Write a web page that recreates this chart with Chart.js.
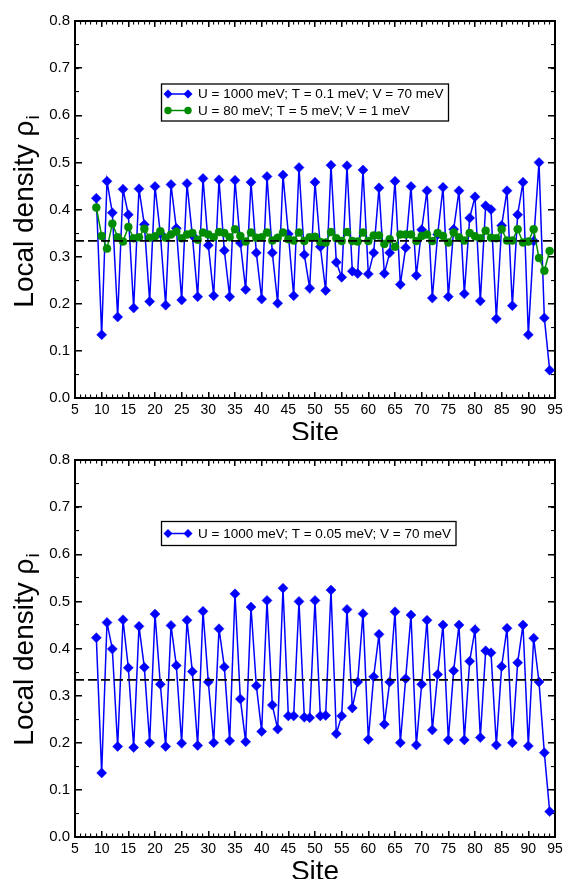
<!DOCTYPE html>
<html>
<head>
<meta charset="utf-8">
<title>Local density per site</title>
<script src="https://cdn.jsdelivr.net/npm/chart.js@4.4.1/dist/chart.umd.min.js"></script>
<style>
  html, body { margin: 0; padding: 0; background: #fff; }
  canvas { position: absolute; left: 0; }
  #panelTop { top: 0; }
  #panelBottom { top: 439px; }
</style>
</head>
<body>
<canvas id="panelTop" width="581" height="440"></canvas>
<canvas id="panelBottom" width="581" height="440"></canvas>
<script>
// sites along the chain
const sites = [
  9, 10, 11, 12, 13, 14, 15, 16, 17, 18,
  19, 20, 21, 22, 23, 24, 25, 26, 27, 28,
  29, 30, 31, 32, 33, 34, 35, 36, 37, 38,
  39, 40, 41, 42, 43, 44, 45, 46, 47, 48,
  49, 50, 51, 52, 53, 54, 55, 56, 57, 58,
  59, 60, 61, 62, 63, 64, 65, 66, 67, 68,
  69, 70, 71, 72, 73, 74, 75, 76, 77, 78,
  79, 80, 81, 82, 83, 84, 85, 86, 87, 88,
  89, 90, 91, 92, 93, 94
];

// top panel: U = 1000 meV; T = 0.1 meV; V = 70 meV
const rhoStrongT01 = [
  0.424, 0.134, 0.460, 0.393, 0.172, 0.443, 0.389, 0.191, 0.444, 0.368,
  0.205, 0.449, 0.349, 0.197, 0.453, 0.360, 0.208, 0.455, 0.345, 0.215,
  0.466, 0.324, 0.217, 0.463, 0.313, 0.215, 0.462, 0.329, 0.230, 0.458,
  0.308, 0.210, 0.470, 0.308, 0.201, 0.473, 0.348, 0.217, 0.489, 0.304,
  0.233, 0.458, 0.321, 0.228, 0.494, 0.288, 0.256, 0.493, 0.269, 0.264,
  0.484, 0.263, 0.308, 0.446, 0.264, 0.308, 0.460, 0.241, 0.319, 0.449,
  0.260, 0.357, 0.440, 0.212, 0.347, 0.447, 0.215, 0.358, 0.440, 0.221,
  0.382, 0.427, 0.206, 0.408, 0.400, 0.168, 0.366, 0.440, 0.196, 0.389,
  0.458, 0.134, 0.333, 0.500, 0.170, 0.059
];

// top panel: U = 80 meV; T = 5 meV; V = 1 meV
const rhoWeak = [
  0.404, 0.344, 0.317, 0.370, 0.341, 0.332, 0.363, 0.339, 0.341, 0.359,
  0.340, 0.343, 0.354, 0.340, 0.347, 0.353, 0.339, 0.347, 0.350, 0.336,
  0.351, 0.347, 0.341, 0.352, 0.350, 0.341, 0.358, 0.344, 0.332, 0.351,
  0.340, 0.341, 0.351, 0.334, 0.340, 0.351, 0.337, 0.334, 0.351, 0.333,
  0.341, 0.342, 0.331, 0.330, 0.352, 0.339, 0.333, 0.352, 0.333, 0.332,
  0.351, 0.333, 0.345, 0.345, 0.327, 0.337, 0.321, 0.347, 0.347, 0.347,
  0.333, 0.344, 0.347, 0.333, 0.350, 0.344, 0.330, 0.351, 0.341, 0.334,
  0.350, 0.343, 0.339, 0.355, 0.340, 0.339, 0.358, 0.334, 0.334, 0.358,
  0.330, 0.332, 0.358, 0.297, 0.270, 0.312
];

// bottom panel: U = 1000 meV; T = 0.05 meV; V = 70 meV
const rhoStrongT005 = [
  0.423, 0.136, 0.455, 0.399, 0.192, 0.461, 0.359, 0.190, 0.447, 0.360,
  0.200, 0.473, 0.324, 0.192, 0.449, 0.364, 0.199, 0.460, 0.351, 0.194,
  0.479, 0.329, 0.200, 0.442, 0.361, 0.204, 0.516, 0.293, 0.202, 0.488,
  0.321, 0.224, 0.502, 0.280, 0.229, 0.528, 0.257, 0.257, 0.500, 0.254,
  0.253, 0.502, 0.257, 0.258, 0.524, 0.219, 0.257, 0.483, 0.274, 0.329,
  0.474, 0.207, 0.340, 0.430, 0.239, 0.329, 0.478, 0.200, 0.336, 0.471,
  0.195, 0.324, 0.460, 0.227, 0.345, 0.450, 0.206, 0.353, 0.450, 0.206,
  0.373, 0.440, 0.211, 0.395, 0.391, 0.195, 0.362, 0.443, 0.200, 0.370,
  0.450, 0.193, 0.422, 0.329, 0.179, 0.054
];

// dashed guide at one-third filling
const guideSites = [5, 95];
const guideRho = [0.3333, 0.3333];

const labelStrongT01 = 'U = 1000 meV; T = 0.1 meV; V = 70 meV';
const labelWeak = 'U = 80 meV; T = 5 meV; V = 1 meV';
const labelStrongT005 = 'U = 1000 meV; T = 0.05 meV; V = 70 meV';

const xRange = [5, 95];
const yRange = [0, 0.8];
const xMajorStep = 5, xMinorStep = 1;
const yMajorStep = 0.1, yMinorStep = 0.05;

const FONT = '"Liberation Sans", Arial, Helvetica, sans-serif';
const BLUE = '#0000ff';
const GREEN = 'rgb(0,140,0)';

function toPoints(xs, ys) {
  return xs.map((x, i) => ({ x: x, y: ys[i] }));
}

function blueSeries(label, values) {
  return {
    label: label,
    data: toPoints(sites, values),
    showLine: true,
    borderColor: BLUE,
    borderWidth: 1.5,
    backgroundColor: BLUE,
    pointStyle: 'rectRot',
    pointRadius: 5,
    pointBorderWidth: 0.5,
    pointBorderColor: BLUE,
    pointBackgroundColor: BLUE,
    order: 2
  };
}

function greenSeries(label, values) {
  return {
    label: label,
    data: toPoints(sites, values),
    showLine: true,
    borderColor: GREEN,
    borderWidth: 1.5,
    backgroundColor: GREEN,
    pointStyle: 'circle',
    pointRadius: 4,
    pointBorderWidth: 0.5,
    pointBorderColor: GREEN,
    pointBackgroundColor: GREEN,
    order: 1
  };
}

function guideSeries() {
  return {
    label: '',
    data: toPoints(guideSites, guideRho),
    showLine: true,
    borderColor: '#000',
    borderWidth: 1.8,
    borderDash: [9, 4],
    pointRadius: 0,
    order: 0
  };
}

// y title with subscript, plus boxed legend inside the plot
const panelDecor = {
  id: 'panelDecor',
  afterDraw(chart, args, opts) {
    const ctx = chart.ctx;

    ctx.save();
    ctx.fillStyle = '#000';
    ctx.translate(33, opts.titleY);
    ctx.rotate(-Math.PI / 2);
    ctx.textBaseline = 'alphabetic';
    const main = 'Local density \u03c1';
    ctx.font = '28px ' + FONT;
    const wMain = ctx.measureText(main).width;
    ctx.font = '19px ' + FONT;
    const wSub = ctx.measureText('i').width;
    const x0 = -(wMain + wSub) / 2;
    ctx.font = '28px ' + FONT;
    ctx.fillText(main, x0, 0);
    ctx.font = '19px ' + FONT;
    ctx.fillText('i', x0 + wMain + 1, 6);
    ctx.restore();

    const rows = chart.data.datasets.filter(d => d.label);
    ctx.save();
    ctx.font = '13.5px ' + FONT;
    let maxW = 0;
    rows.forEach(d => { maxW = Math.max(maxW, ctx.measureText(d.label).width); });
    const left = 161.5, textX = 198;
    const top = opts.boxTop, h = opts.boxHeight;
    const right = textX + maxW + 5;
    ctx.fillStyle = '#fff';
    ctx.fillRect(left, top, right - left, h);
    ctx.strokeStyle = '#000';
    ctx.lineWidth = 1.3;
    ctx.strokeRect(left, top, right - left, h);

    rows.forEach((d, i) => {
      const y = opts.rowY + i * 16.5;
      ctx.strokeStyle = d.borderColor;
      ctx.lineWidth = 1.5;
      ctx.beginPath();
      ctx.moveTo(168, y);
      ctx.lineTo(188, y);
      ctx.stroke();
      ctx.fillStyle = d.pointBackgroundColor;
      [168, 188].forEach(px => {
        ctx.beginPath();
        if (d.pointStyle === 'rectRot') {
          const r = 4.5;
          ctx.moveTo(px, y - r);
          ctx.lineTo(px + r, y);
          ctx.lineTo(px, y + r);
          ctx.lineTo(px - r, y);
          ctx.closePath();
        } else {
          ctx.arc(px, y, 3.7, 0, Math.PI * 2);
        }
        ctx.fill();
      });
      ctx.fillStyle = '#000';
      ctx.textBaseline = 'middle';
      ctx.fillText(d.label, textX, y + 0.5);
    });
    ctx.restore();
  }
};

function frameAxis(position, step, tickLen, withBorder, weight) {
  const horizontal = position === 'top' || position === 'bottom';
  return {
    type: 'linear',
    position: position,
    min: horizontal ? xRange[0] : yRange[0],
    max: horizontal ? xRange[1] : yRange[1],
    weight: weight,
    ticks: { display: false, stepSize: step },
    grid: {
      drawOnChartArea: false,
      drawTicks: true,
      tickLength: tickLen,
      color: '#000',
      lineWidth: tickLen < -4 ? 1.5 : 1.1
    },
    border: withBorder ? { display: true, color: '#000', width: 2 } : { display: false },
    afterFit(scale) {
      if (horizontal) scale.height = 0; else scale.width = 0;
    }
  };
}

function buildPanel(canvasId, datasets, decor) {
  const canvas = document.getElementById(canvasId);
  return new Chart(canvas.getContext('2d'), {
    type: 'scatter',
    data: { datasets: datasets },
    plugins: [panelDecor],
    options: {
      responsive: false,
      animation: false,
      devicePixelRatio: 1,
      events: [],
      layout: { padding: { top: 11, right: 26, bottom: 0, left: 0 } },
      plugins: {
        legend: { display: false },
        tooltip: { enabled: false },
        panelDecor: decor
      },
      scales: {
        x: {
          type: 'linear',
          position: 'bottom',
          min: xRange[0],
          max: xRange[1],
          weight: 10,
          ticks: {
            stepSize: xMajorStep,
            autoSkip: false,
            maxRotation: 0,
            padding: 10,
            color: '#000',
            font: { family: FONT, size: 14 }
          },
          grid: { drawOnChartArea: false, drawTicks: true, tickLength: -6, color: '#000', lineWidth: 1.5 },
          border: { display: true, color: '#000', width: 2 },
          title: {
            display: true,
            text: 'Site',
            color: '#000',
            font: { family: FONT, size: 28, lineHeight: 0.5 },
            padding: 0
          },
          afterFit(scale) { scale.height = 42; }
        },
        xMinor: frameAxis('bottom', xMinorStep, -3.5, false, 0),
        xTop: frameAxis('top', xMajorStep, -6, true, 10),
        xTopMinor: frameAxis('top', xMinorStep, -3.5, false, 0),
        y: {
          type: 'linear',
          position: 'left',
          min: yRange[0],
          max: yRange[1],
          weight: 10,
          ticks: {
            stepSize: yMajorStep,
            padding: 12,
            color: '#000',
            font: { family: FONT, size: 15 },
            callback: (value) => Number(value).toFixed(1)
          },
          grid: { drawOnChartArea: false, drawTicks: true, tickLength: -7, color: '#000', lineWidth: 1.5 },
          border: { display: true, color: '#000', width: 2 },
          afterFit(scale) { scale.width = 75; }
        },
        yMinor: frameAxis('left', yMinorStep, -4, false, 0),
        yRight: frameAxis('right', yMajorStep, -7, true, 10),
        yRightMinor: frameAxis('right', yMinorStep, -4, false, 0)
      }
    }
  });
}

buildPanel('panelTop', [
  blueSeries(labelStrongT01, rhoStrongT01),
  greenSeries(labelWeak, rhoWeak),
  guideSeries()
], { titleY: 212, boxTop: 84, boxHeight: 37, rowY: 94 });

buildPanel('panelBottom', [
  blueSeries(labelStrongT005, rhoStrongT005),
  guideSeries()
], { titleY: 211, boxTop: 82.5, boxHeight: 24, rowY: 94.5 });
</script>
</body>
</html>
